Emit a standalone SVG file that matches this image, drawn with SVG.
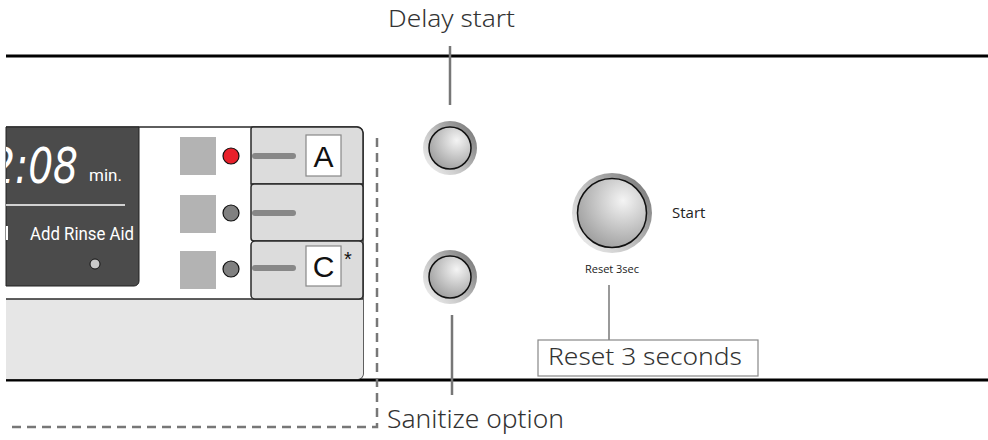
<svg xmlns="http://www.w3.org/2000/svg" width="988" height="440" viewBox="0 0 988 440">
<defs>
<style>
.lbl{font-family:"Noto Sans",Roboto,sans-serif;font-weight:300;fill:#333}
.lead{stroke:#777;stroke-width:2.5;fill:none}
.btn{fill:#dcdcdc;stroke:#2a2a2a;stroke-width:1.5}
.sq{fill:#b3b3b3}
.bar{stroke:#888;stroke-width:6;stroke-linecap:round}
.led{stroke:#111;stroke-width:1.2}
.key{font-family:"Liberation Sans",Arial,sans-serif;font-size:30px;fill:#111;text-anchor:middle}
.disp{font-family:"Liberation Sans Narrow",Roboto,sans-serif;fill:#fff}
</style>
<linearGradient id="ring" x1="0" y1="1" x2="1" y2="0.2">
<stop offset="0" stop-color="#f7f7f7"/>
<stop offset="0.45" stop-color="#c8c8c8"/>
<stop offset="1" stop-color="#7a7a7a"/>
</linearGradient>
<radialGradient id="face" cx="0.66" cy="0.32" r="0.78">
<stop offset="0" stop-color="#f4f4f4"/>
<stop offset="1" stop-color="#9a9a9a"/>
</radialGradient>
<clipPath id="dclip"><rect x="6" y="127" width="134" height="160"/></clipPath>
</defs>

<g id="frame">
<line x1="6" y1="56" x2="988" y2="56" stroke="#000" stroke-width="3"/>
<line x1="6" y1="380" x2="988" y2="380" stroke="#000" stroke-width="3"/>
</g>

<g id="panel">
<path d="M6 127 H357 a6 6 0 0 1 6 6 V374 a5 5 0 0 1 -5 5 H6" fill="#fff" stroke="#2a2a2a" stroke-width="1.5"/>
<path d="M6 299 H363 V374 a5 5 0 0 1 -5 5 H6 Z" fill="#e6e6e6" stroke="none"/>
<line x1="6" y1="299" x2="363" y2="299" stroke="#2a2a2a" stroke-width="1.5"/>
</g>

<g id="display">
<path d="M6 127 H139 V281 a5 5 0 0 1 -5 5 H6 Z" fill="#4b4b4b" stroke="#222" stroke-width="1"/>
<g clip-path="url(#dclip)">
<text x="78" y="183" text-anchor="end" font-size="50" font-style="italic" font-family="'DejaVu Sans Condensed','DejaVu Sans',sans-serif" font-weight="200" fill="#fff" textLength="88" lengthAdjust="spacingAndGlyphs">2:08</text>
</g>
<text class="disp" x="89" y="181" font-size="17">min.</text>
<line x1="6" y1="205" x2="125" y2="205" stroke="#fff" stroke-width="1.5"/>
<rect x="6" y="226" width="2" height="14" fill="#fff"/>
<text class="disp" x="30" y="240" font-size="19" textLength="104" lengthAdjust="spacingAndGlyphs">Add Rinse Aid</text>
<circle cx="95" cy="264" r="5" fill="#c8c8c8" stroke="#111" stroke-width="1"/>
</g>

<g id="option-A">
<rect class="sq" x="180" y="137" width="36" height="38"/>
<circle class="led" cx="231" cy="156" r="8" fill="#e8202a"/>
<path class="btn" d="M251 184 V129 a2 2 0 0 1 2 -2 H357 a6 6 0 0 1 6 6 V184 Z"/>
<line class="bar" x1="255" y1="156" x2="293" y2="156"/>
<rect x="306" y="135" width="35" height="41" fill="#fff" stroke="#888" stroke-width="1.2"/>
<text class="key" x="323.5" y="167">A</text>
</g>

<g id="option-B">
<rect class="sq" x="180" y="195" width="36" height="38"/>
<circle class="led" cx="231" cy="213" r="8" fill="#808080"/>
<rect class="btn" x="251" y="184" width="112" height="57" rx="3"/>
<line class="bar" x1="255" y1="213" x2="293" y2="213"/>
</g>

<g id="option-C">
<rect class="sq" x="180" y="251" width="36" height="38"/>
<circle class="led" cx="231" cy="269" r="8" fill="#808080"/>
<rect class="btn" x="251" y="241" width="112" height="58" rx="4"/>
<line class="bar" x1="255" y1="268" x2="293" y2="268"/>
<rect x="306" y="246" width="35" height="40" fill="#fff" stroke="#888" stroke-width="1.2"/>
<text class="key" x="323.5" y="277">C</text>
<text x="344" y="266" font-family="'Liberation Sans',Arial,sans-serif" font-size="20" fill="#111">*</text>
</g>

<g id="delay-button">
<circle cx="450" cy="148" r="27" fill="url(#ring)"/>
<circle cx="450" cy="148" r="21" fill="url(#face)" stroke="#111" stroke-width="1.5"/>
</g>

<g id="sanitize-button">
<circle cx="450" cy="277" r="27" fill="url(#ring)"/>
<circle cx="450" cy="277" r="21" fill="url(#face)" stroke="#111" stroke-width="1.5"/>
</g>

<g id="start-button">
<circle cx="612" cy="213" r="40" fill="url(#ring)"/>
<circle cx="612" cy="213" r="34.5" fill="url(#face)" stroke="#111" stroke-width="1.5"/>
<text x="672" y="218" font-family="'Open Sans',sans-serif" font-size="15" fill="#222">Start</text>
<text x="612" y="273" text-anchor="middle" font-family="'Open Sans',sans-serif" font-size="11" fill="#222">Reset 3sec</text>
</g>

<g id="connectors">
<line class="lead" x1="450" y1="46" x2="450" y2="105"/>
<line class="lead" x1="452" y1="315" x2="452" y2="395"/>
<line x1="609" y1="285" x2="609" y2="340" stroke="#777" stroke-width="1.5"/>
<path d="M377 138 V427 H6" fill="none" stroke="#777" stroke-width="2.5" stroke-dasharray="9 6"/>
</g>

<g id="labels">
<text class="lbl" x="388" y="27" font-size="24" textLength="127" lengthAdjust="spacingAndGlyphs">Delay start</text>
<text class="lbl" x="387" y="428" font-size="25" textLength="177" lengthAdjust="spacingAndGlyphs">Sanitize option</text>
<g id="reset-label">
<rect x="538" y="340" width="220" height="36" fill="#fff" stroke="#888" stroke-width="1.2"/>
<text class="lbl" x="548" y="365" font-size="24" textLength="194" lengthAdjust="spacingAndGlyphs">Reset 3 seconds</text>
</g>
</g>
</svg>
